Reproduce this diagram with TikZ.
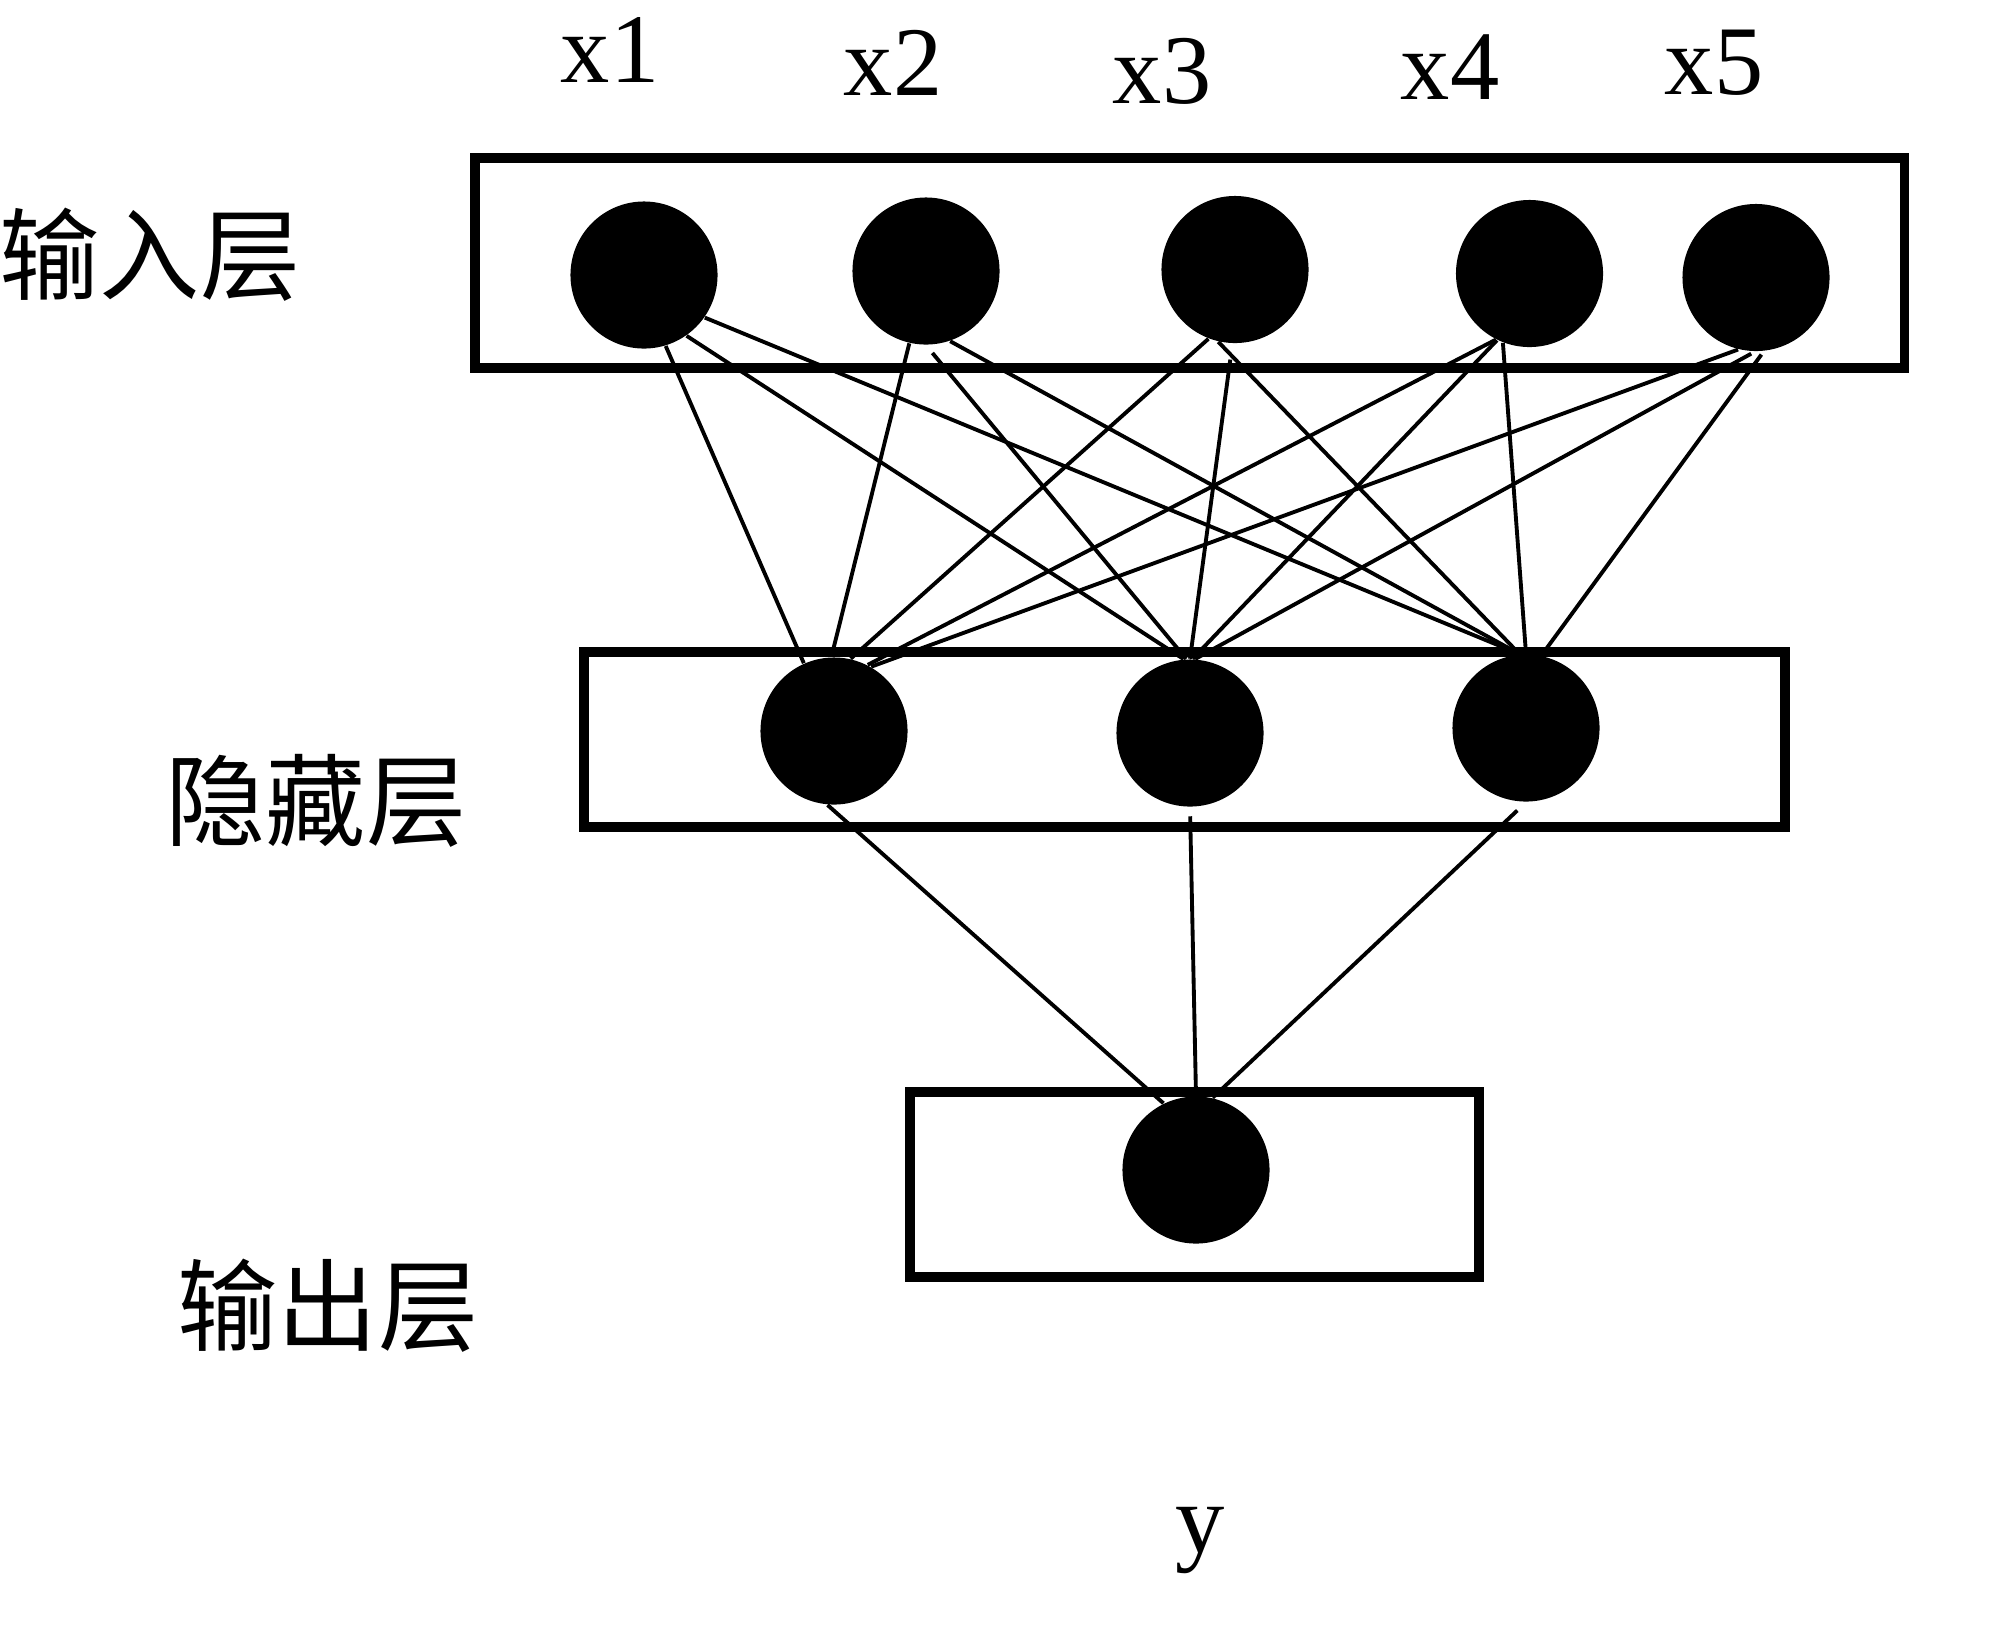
\documentclass[tikz,border=0pt]{standalone}
\usepackage{fontspec}
\setmainfont{Liberation Serif}
\newfontfamily\cjk{Noto Sans CJK SC}
\begin{document}
\begin{tikzpicture}[x=0.01cm,y=-0.01cm,
  neuron/.style={circle,fill=black,draw=none,minimum size=1.47cm,inner sep=0pt},
  layerbox/.style={draw=black,line width=2.8pt,inner sep=0pt},
  conn/.style={line width=1.1pt},
  varlabel/.style={inner sep=0pt,font=\fontsize{28}{30}\selectfont},
  layerlabel/.style={inner sep=0pt,font=\cjk\fontsize{28.5}{30}\selectfont}]
\useasboundingbox[fill=white] (0,0) rectangle (2000,1632);
% boxes
\node[layerbox,minimum width=14.29cm,minimum height=2.10cm] (inbox) at (1189.5,263) {};
\node[layerbox,minimum width=12.01cm,minimum height=1.75cm] (hidbox) at (1184.5,739.5) {};
\node[layerbox,minimum width=5.69cm,minimum height=1.85cm] (outbox) at (1194.5,1184.5) {};
% neurons
\node[neuron] (i1) at (644,275) {};
\node[neuron] (i2) at (926,271) {};
\node[neuron] (i3) at (1235,269.5) {};
\node[neuron] (i4) at (1529.5,273.5) {};
\node[neuron] (i5) at (1756,277.5) {};
\node[neuron] (h1) at (834,731) {};
\node[neuron] (h2) at (1190,733) {};
\node[neuron] (h3) at (1526,728) {};
\node[neuron] (o) at (1196,1170) {};
% connections input -> hidden
\foreach \a/\b/\s/\e/\g in {
  i1/h1/-73/114/0, i1/h2/-55/95/0, i1/h3/-35/95/0,
  i2/h1/-103/92/0, i2/h2/-90/93/0.1, i2/h3/-71/95/0,
  i3/h1/-111/77/0, i3/h2/-92/90/0.16, i3/h3/-103/95/0,
  i4/h1/-117/63/0, i4/h2/-116/88/0, i4/h3/-111/90/0,
  i5/h1/-104/60/0, i5/h2/-91/86/0.04, i5/h3/-84/78/0.04}
  \draw[conn,shorten <=\g cm] (\a.\s) -- (\b.\e);
% connections hidden -> output
\foreach \h/\s/\e/\g in {h1/-95/116/0, h2/-90/90/0.09, h3/-90/77/0.12}
  \draw[conn,shorten <=\g cm] (\h.\s) -- (o.\e);
% labels
\node[varlabel] (l1) at (610,50) {x1};
\node[varlabel] (l2) at (893,63) {x2};
\node[varlabel] (l3) at (1162,71) {x3};
\node[varlabel] (l4) at (1450,67) {x4};
\node[varlabel] (l5) at (1714,63) {x5};
\node[varlabel] (ly) at (1200,1540) {y};
\node[layerlabel] (t1) at (150,255) {输入层};
\node[layerlabel] (t2) at (316,801) {隐藏层};
\node[layerlabel] (t3) at (328,1306) {输出层};
\end{tikzpicture}
\end{document}
